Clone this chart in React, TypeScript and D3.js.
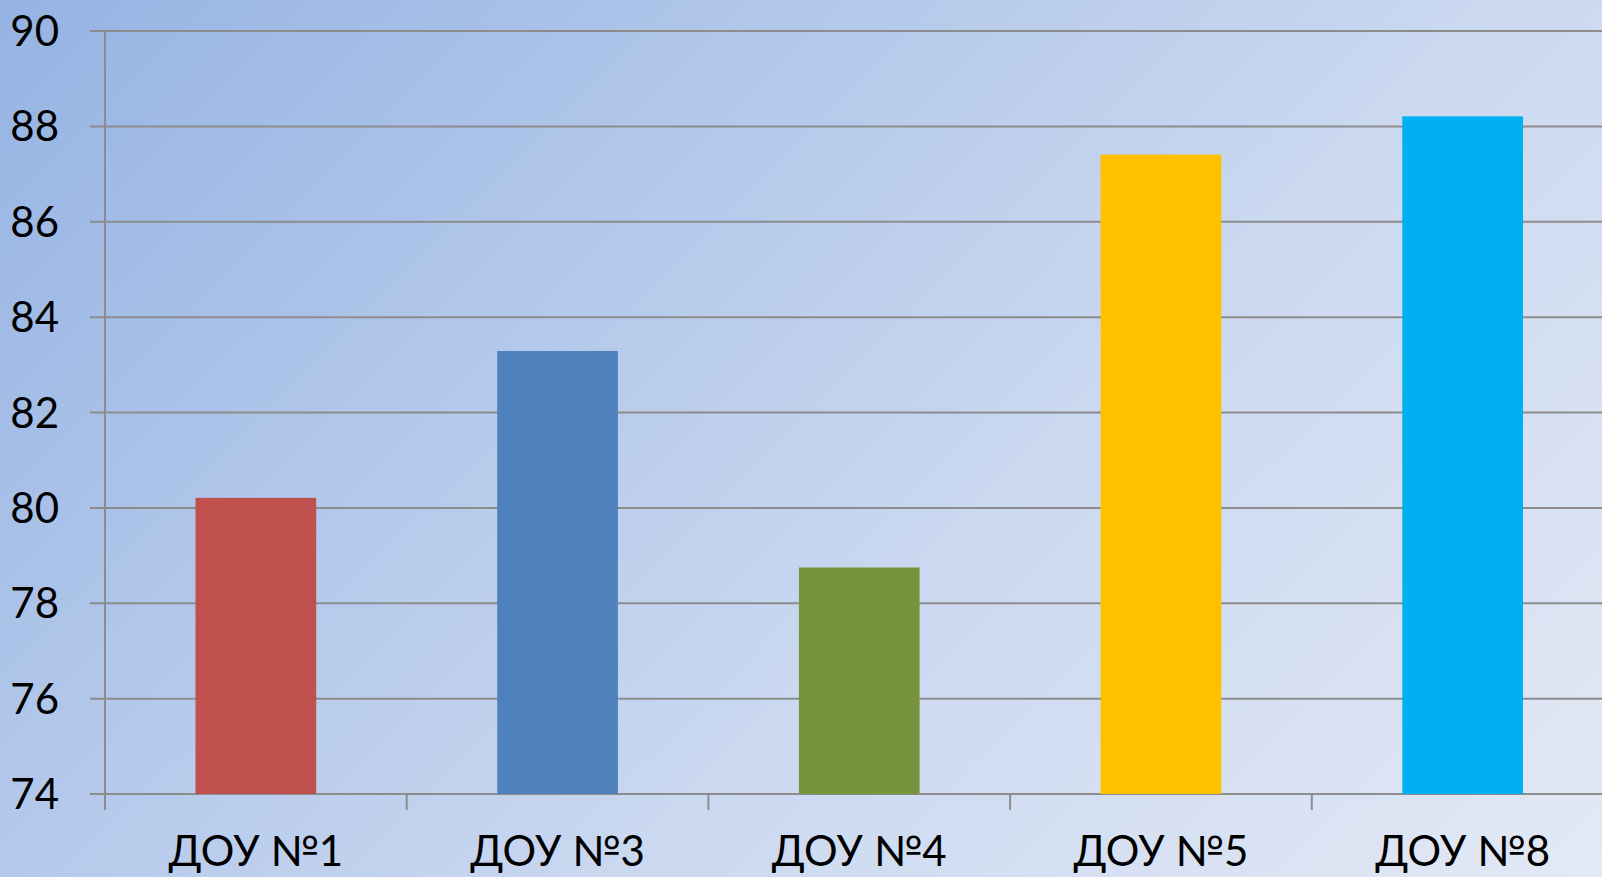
import React from 'react';
import { scaleBand, scaleLinear, range } from 'd3';

const categories = ['ДОУ №1', 'ДОУ №3', 'ДОУ №4', 'ДОУ №5', 'ДОУ №8'];
const values = [80.21, 83.29, 78.75, 87.41, 88.21];
const barColors = ['#c0504d', '#4f81bd', '#77933c', '#ffc000', '#00b0f0'];
const yTicks = [74, 76, 78, 80, 82, 84, 86, 88, 90];

const W = 1602;
const H = 877;
const margin = { left: 105, top: 31, bottom: 83 };
const step = 301.7;

export default function App() {
  const y = scaleLinear().domain([74, 90]).range([H - margin.bottom, margin.top]);
  const x = scaleBand<string>()
    .domain(categories)
    .range([margin.left, margin.left + step * categories.length])
    .paddingInner(0.6)
    .paddingOuter(0.3);

  const font = 'Lato, "Open Sans", sans-serif';
  const grid = '#8c8c8c';

  return (
    <svg width={W} height={H} style={{ position: 'absolute', left: 0, top: 0 }}>
      <defs>
        <linearGradient id="bg" gradientUnits="userSpaceOnUse" x1={0} y1={0} x2={(W + H) / 2} y2={(W + H) / 2}>
          <stop offset="0" stopColor="#95b3e3" />
          <stop offset="0.6" stopColor="#cad8f0" />
          <stop offset="1" stopColor="#e3e9f5" />
        </linearGradient>
      </defs>
      <rect x={0} y={0} width={W} height={H} fill="url(#bg)" />

      {yTicks.map((t) => (
        <g key={t}>
          <line x1={90} x2={W} y1={y(t)} y2={y(t)} stroke={grid} strokeWidth={2} />
          <text x={59} y={y(t)} dy="0.36em" textAnchor="end" fontFamily={font} fontSize={42} fill="#000">
            {t}
          </text>
        </g>
      ))}

      <line x1={margin.left} x2={margin.left} y1={y(90)} y2={y(74) + 16} stroke={grid} strokeWidth={2} />
      {range(categories.length + 1).map((i) => (
        <line
          key={i}
          x1={margin.left + i * step}
          x2={margin.left + i * step}
          y1={y(74)}
          y2={y(74) + 16}
          stroke={grid}
          strokeWidth={2}
        />
      ))}

      {categories.map((c, i) => (
        <rect
          key={c}
          x={x(c)}
          y={y(values[i])}
          width={x.bandwidth()}
          height={y(74) - y(values[i])}
          fill={barColors[i]}
        />
      ))}

      {categories.map((c) => (
        <text
          key={c}
          x={(x(c) ?? 0) + x.bandwidth() / 2}
          y={866}
          textAnchor="middle"
          fontFamily={font}
          fontSize={42}
          fill="#000"
        >
          {c}
        </text>
      ))}
    </svg>
  );
}
